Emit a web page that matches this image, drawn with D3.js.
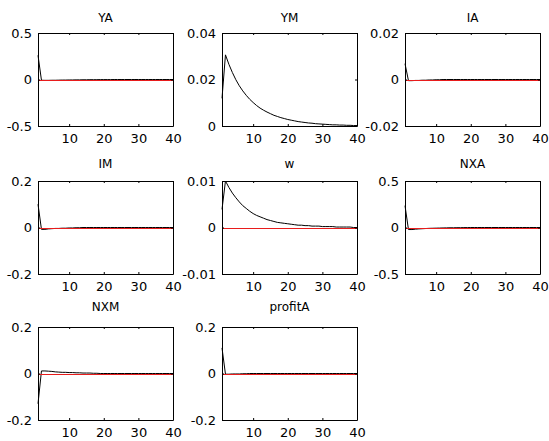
<!DOCTYPE html>
<html>
<head>
<meta charset="utf-8">
<script src="https://cdn.jsdelivr.net/npm/d3@7"></script>
<style>
  body { margin: 0; background: #fff; }
  svg { display: block; font-family: 'DejaVu Sans', Arial, sans-serif; }
</style>
</head>
<body>
<svg id="chart"></svg>
<script>
// impulse responses, periods 1..40
let titles = ['YA', 'YM', 'IA', 'IM', 'w', 'NXA', 'NXM', 'profitA'];

let YA = [0.26, -0.008, -0.009, -0.009, -0.008, -0.008, -0.007, -0.006, -0.006, -0.005,
          -0.005, -0.004, -0.004, -0.003, -0.003, -0.002, -0.002, -0.002, -0.001, -0.001,
          -0.001, -0.001, 0, 0, 0, 0, 0, 0, 0, 0, 0, 0, 0, 0, 0, 0, 0, 0, 0, 0];
let YM = [0.0119, 0.0306, 0.0265, 0.0230, 0.0199, 0.0173, 0.0151, 0.0132, 0.0115, 0.0101,
          0.0088, 0.0077, 0.0068, 0.0060, 0.0053, 0.0046, 0.0041, 0.0036, 0.0032, 0.0028,
          0.0025, 0.0022, 0.0019, 0.0017, 0.0015, 0.0013, 0.0012, 0.0010, 0.0009, 0.0008,
          0.0007, 0.0006, 0.0005, 0.0005, 0.0004, 0.0004, 0.0003, 0.0003, 0.0002, 0.0002];
let IA = [0.0068, -0.0005, -0.0005, -0.0004, -0.0004, -0.0003, -0.0003, -0.0002, -0.0002, -0.0001,
          -0.0001, 0, 0, 0, 0, 0, 0, 0, 0, 0, 0, 0, 0, 0, 0, 0, 0, 0, 0, 0,
          0, 0, 0, 0, 0, 0, 0, 0, 0, 0];
let IM = [0.10, -0.008, -0.008, -0.006, -0.005, -0.004, -0.004, -0.003, -0.003, -0.002,
          -0.002, -0.001, -0.001, 0, 0, 0, 0, 0, 0, 0, 0, 0, 0, 0, 0, 0, 0, 0, 0, 0,
          0, 0, 0, 0, 0, 0, 0, 0, 0, 0];
let w = [0.0039, 0.0100, 0.0086, 0.0074, 0.0064, 0.0055, 0.0047, 0.0041, 0.0035, 0.0030,
         0.0026, 0.0023, 0.0020, 0.0017, 0.0015, 0.0013, 0.0011, 0.0010, 0.0009, 0.0008,
         0.0007, 0.0006, 0.0005, 0.0005, 0.0004, 0.0004, 0.0003, 0.0003, 0.0003, 0.0002,
         0.0002, 0.0002, 0.0002, 0.0001, 0.0001, 0.0001, 0.0001, 0.0001, 0, 0];
let NXA = [0.235, -0.022, -0.022, -0.018, -0.015, -0.013, -0.011, -0.009, -0.008, -0.007,
           -0.006, -0.005, -0.004, -0.003, -0.003, -0.002, -0.002, -0.001, -0.001, 0,
           0, 0, 0, 0, 0, 0, 0, 0, 0, 0, 0, 0, 0, 0, 0, 0, 0, 0, 0, 0];
let NXM = [-0.13, 0.011, 0.011, 0.010, 0.009, 0.007, 0.006, 0.005, 0.005, 0.004,
           0.004, 0.003, 0.003, 0.002, 0.002, 0.002, 0.001, 0.001, 0, 0,
           0, 0, 0, 0, 0, 0, 0, 0, 0, 0, 0, 0, 0, 0, 0, 0, 0, 0, 0, 0];
let profitA = [0.11, -0.003, -0.003, -0.002, -0.002, -0.002, -0.001, -0.001, 0, 0,
               0, 0, 0, 0, 0, 0, 0, 0, 0, 0, 0, 0, 0, 0, 0, 0, 0, 0, 0, 0,
               0, 0, 0, 0, 0, 0, 0, 0, 0, 0];

let series = [YA, YM, IA, IM, w, NXA, NXM, profitA];

// y tick labels of each panel (bottom, middle, top)
let yTicks = [
  [-0.5, 0, 0.5],
  [0, 0.02, 0.04],
  [-0.02, 0, 0.02],
  [-0.2, 0, 0.2],
  [-0.01, 0, 0.01],
  [-0.5, 0, 0.5],
  [-0.2, 0, 0.2],
  [-0.2, 0, 0.2]
];
let xTicks = [10, 20, 30, 40];
let horizon = 40;

let width = 549;
let height = 441;
let colLeft = [38, 222, 405];
let rowTop = [33, 181, 327];
let titleY = [22, 168, 311];
let boxW = 135;
let boxH = 93;

let svg = d3.select('#chart')
            .attr('width', width)
            .attr('height', height);

let drawPanel = (k) => {
  let col = k % 3;
  let row = Math.floor(k / 3);
  let values = series[k];
  let ticks = yTicks[k];

  let g = svg.append('g')
             .attr('transform', 'translate(' + colLeft[col] + ',' + rowTop[row] + ')');

  let xScale = d3.scaleLinear()
                 .domain([1, horizon])
                 .range([0, boxW]);
  let yScale = d3.scaleLinear()
                 .domain([ticks[0], ticks[2]])
                 .range([boxH, 0]);

  let line = d3.line()
               .x((d, i) => xScale(i + 1))
               .y((d) => yScale(d));

  // irf line first, zero line on top of it
  g.append('path')
   .datum(values)
   .attr('d', line)
   .attr('fill', 'none')
   .attr('stroke', '#000')
   .attr('stroke-width', 1);

  g.append('line')
   .attr('x1', xScale(1))
   .attr('x2', xScale(horizon))
   .attr('y1', Math.round(yScale(0)) + 0.5)
   .attr('y2', Math.round(yScale(0)) + 0.5)
   .attr('stroke', '#e81c1c')
   .attr('stroke-width', 1);

  // box with inward ticks, drawn over the lines
  g.append('g')
   .attr('transform', 'translate(0,' + boxH + ')')
   .call(d3.axisBottom(xScale).tickValues(xTicks).tickSizeInner(-2).tickSizeOuter(0).tickPadding(8));
  g.append('g')
   .call(d3.axisTop(xScale).tickValues(xTicks).tickSizeInner(-2).tickSizeOuter(0).tickFormat(''));
  g.append('g')
   .call(d3.axisLeft(yScale).tickValues(ticks).tickSizeInner(-2).tickSizeOuter(0).tickPadding(6)
           .tickFormat((d) => String(d)));
  g.append('g')
   .attr('transform', 'translate(' + boxW + ',0)')
   .call(d3.axisRight(yScale).tickValues(ticks).tickSizeInner(-2).tickSizeOuter(0).tickFormat(''));

  g.selectAll('.tick text')
   .attr('font-size', 13)
   .attr('font-family', "'DejaVu Sans', Arial, sans-serif")
   .attr('fill', '#000');

  svg.append('text')
     .attr('x', colLeft[col] + boxW / 2)
     .attr('y', titleY[row])
     .attr('text-anchor', 'middle')
     .attr('font-size', 12)
     .attr('fill', '#000')
     .text(titles[k]);
}

series.forEach((s, k) => drawPanel(k));
</script>
</body>
</html>
